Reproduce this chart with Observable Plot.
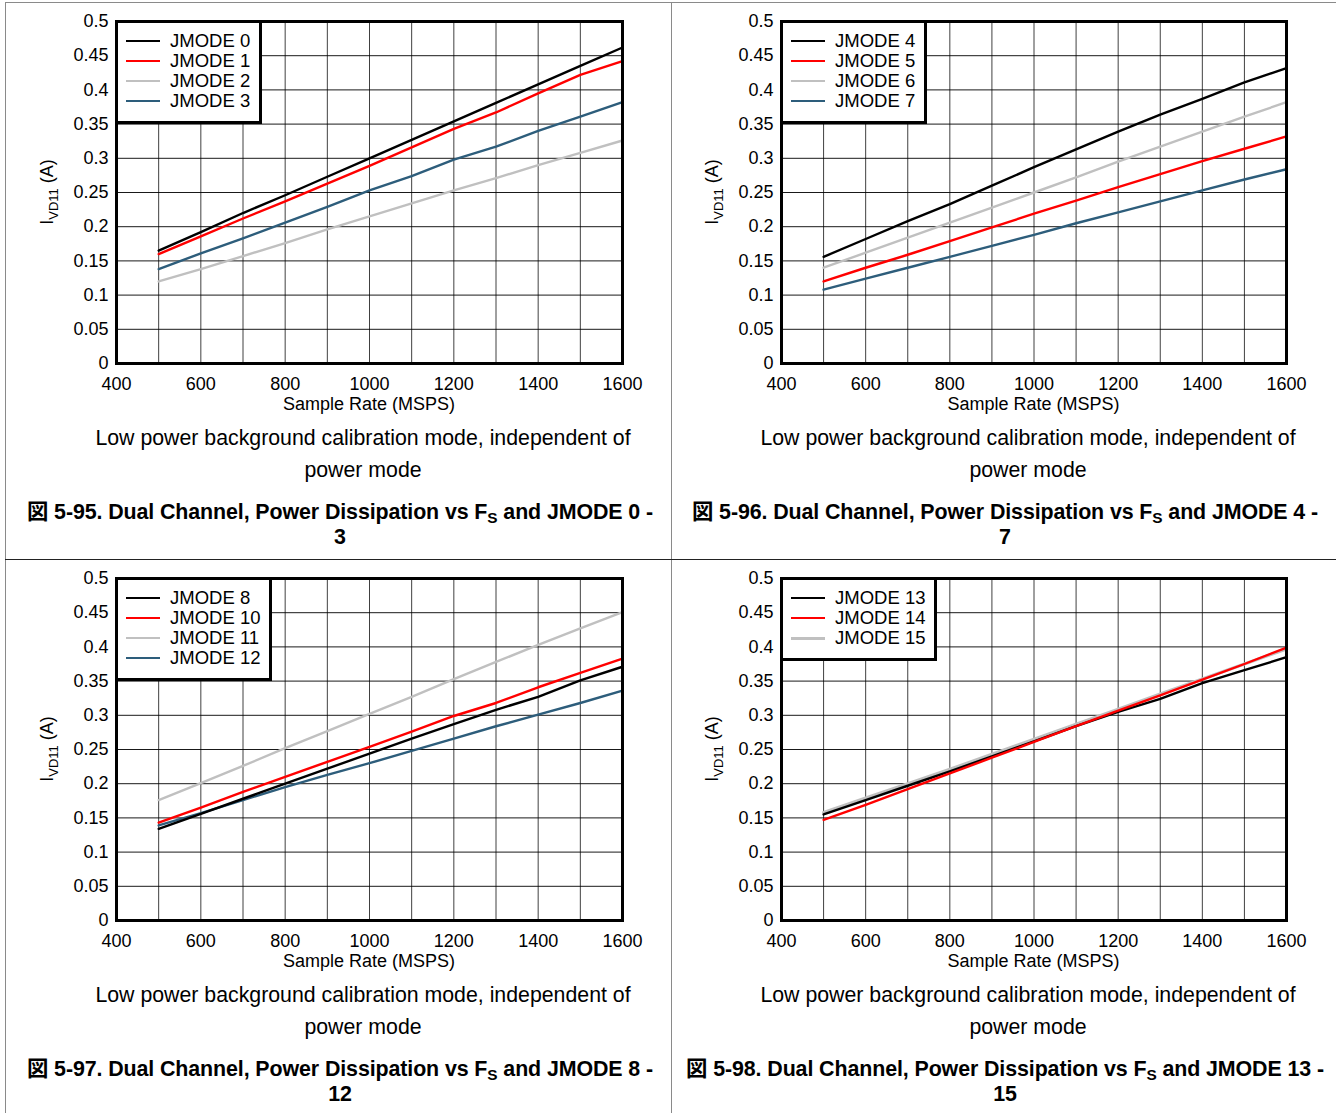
<!DOCTYPE html>
<html>
<head>
<meta charset="utf-8">
<script src="https://cdn.jsdelivr.net/npm/d3@7"></script>
<script src="https://cdn.jsdelivr.net/npm/@observablehq/plot@0.6"></script>
<style>
  html, body { margin: 0; padding: 0; background: #fff; }
  #root { position: relative; width: 1336px; height: 1113px; overflow: hidden; background: #fff;
          font-family: "Liberation Sans", Arial, "Noto Sans CJK JP", sans-serif; color: #000; }
  .abs { position: absolute; }
  .caption { font-size: 21.3px; line-height: 32px; text-align: center; white-space: nowrap; }
  .title { font-size: 21.4px; line-height: 25px; font-weight: bold; text-align: center; white-space: nowrap; letter-spacing: -0.1px; }
  .title sub { font-size: 0.72em; vertical-align: -0.28em; line-height: 0; }
  .legend { box-sizing: border-box; border: 3px solid #000; background: #fff; padding: 8.5px 9px 10px 8.5px; font-size: 18.5px; }
  .legend .row { display: flex; align-items: center; height: 20px; line-height: 20px; white-space: nowrap; }
  .legend .sw { width: 34px; height: 0; margin-right: 10px; }
</style>
</head>
<body>
<div id="root"></div>
<script>
// ---- data ----
const sampleRate = [500, 600, 700, 800, 900, 1000, 1100, 1200, 1300, 1400, 1500, 1600];
const jmode0  = [0.165, 0.192, 0.220, 0.246, 0.273, 0.300, 0.327, 0.354, 0.381, 0.408, 0.435, 0.462];
const jmode1  = [0.160, 0.186, 0.212, 0.237, 0.263, 0.289, 0.316, 0.343, 0.367, 0.395, 0.422, 0.442];
const jmode2  = [0.120, 0.138, 0.157, 0.176, 0.196, 0.215, 0.234, 0.253, 0.271, 0.290, 0.308, 0.326];
const jmode3  = [0.138, 0.161, 0.183, 0.206, 0.229, 0.253, 0.274, 0.298, 0.317, 0.340, 0.361, 0.382];
const jmode4  = [0.156, 0.182, 0.208, 0.233, 0.260, 0.287, 0.313, 0.339, 0.364, 0.387, 0.411, 0.432];
const jmode5  = [0.120, 0.140, 0.159, 0.179, 0.199, 0.219, 0.238, 0.258, 0.277, 0.296, 0.314, 0.332];
const jmode6  = [0.140, 0.162, 0.184, 0.206, 0.228, 0.250, 0.272, 0.295, 0.317, 0.339, 0.361, 0.382];
const jmode7  = [0.108, 0.124, 0.140, 0.156, 0.172, 0.188, 0.205, 0.221, 0.237, 0.253, 0.269, 0.284];
const jmode8  = [0.134, 0.156, 0.178, 0.200, 0.222, 0.244, 0.266, 0.287, 0.308, 0.327, 0.351, 0.371];
const jmode10 = [0.143, 0.165, 0.188, 0.210, 0.232, 0.254, 0.276, 0.299, 0.318, 0.341, 0.362, 0.383];
const jmode11 = [0.176, 0.201, 0.226, 0.252, 0.277, 0.302, 0.327, 0.353, 0.378, 0.403, 0.427, 0.451];
const jmode12 = [0.139, 0.157, 0.176, 0.195, 0.213, 0.230, 0.248, 0.266, 0.284, 0.301, 0.318, 0.336];
const jmode13 = [0.155, 0.176, 0.197, 0.218, 0.240, 0.262, 0.284, 0.305, 0.324, 0.347, 0.366, 0.385];
const jmode14 = [0.147, 0.169, 0.192, 0.215, 0.238, 0.261, 0.284, 0.307, 0.329, 0.352, 0.375, 0.399];
const jmode15 = [0.158, 0.179, 0.200, 0.221, 0.243, 0.265, 0.287, 0.309, 0.331, 0.353, 0.375, 0.397];

const xTicks = [400, 600, 800, 1000, 1200, 1400, 1600];
const xGrid  = [400, 500, 600, 700, 800, 900, 1000, 1100, 1200, 1300, 1400, 1500, 1600];
const yTicks = [0, 0.05, 0.1, 0.15, 0.2, 0.25, 0.3, 0.35, 0.4, 0.45, 0.5];

const xLabel = "Sample Rate (MSPS)";
const captionText = ["Low power background calibration mode, independent of", "power mode"];
const figNumbers = ["5-95", "5-96", "5-97", "5-98"];
const figRanges = [["0 -", "3"], ["4 -", "7"], ["8 -", "12"], ["13 -", "15"]];
const seriesNames = [
  ["JMODE 0", "JMODE 1", "JMODE 2", "JMODE 3"],
  ["JMODE 4", "JMODE 5", "JMODE 6", "JMODE 7"],
  ["JMODE 8", "JMODE 10", "JMODE 11", "JMODE 12"],
  ["JMODE 13", "JMODE 14", "JMODE 15"]
];
const seriesValues = [
  [jmode0, jmode1, jmode2, jmode3],
  [jmode4, jmode5, jmode6, jmode7],
  [jmode8, jmode10, jmode11, jmode12],
  [jmode13, jmode14, jmode15]
];

// ---- styling ----
const BLACK = "#000000", RED = "#ff0000", GRAY = "#c0c0c0", BLUE = "#2d5d7b";
const seriesColors = [
  [BLACK, RED, GRAY, BLUE],
  [BLACK, RED, GRAY, BLUE],
  [BLACK, RED, GRAY, BLUE],
  [BLACK, RED, GRAY]
];
// drawing order (indices) per panel
const drawOrder = [[2, 3, 1, 0], [2, 3, 1, 0], [2, 3, 0, 1], [2, 0, 1]];
const FONT = '"Liberation Sans", Arial, "Noto Sans CJK JP", sans-serif';
const yFmt = d => d === 0 ? "0" : String(+d.toFixed(2));

const root = document.getElementById("root");

function addLine(x, y, w, h, color) {
  const d = document.createElement("div");
  d.className = "abs";
  d.style.cssText = `left:${x}px;top:${y}px;width:${w}px;height:${h}px;background:${color};`;
  root.appendChild(d);
}

// frame lines between panels
addLine(6, 2, 1330, 1, "#8a8a8a");
addLine(5, 2, 1, 1111, "#8a8a8a");
addLine(671, 2, 1, 1111, "#8a8a8a");
addLine(5, 559, 1331, 1, "#222");

for (let p = 0; p < 4; p++) {
  const col = p % 2, row = Math.floor(p / 2);
  const L = col ? 672 : 0, T = row ? 557 : 0;
  const W = col ? 664 : 672, ML = col ? 109 : 116;
  const MR = 50, MT = 21, MB = 52, H = 415;

  const lines = drawOrder[p].map(i => {
    const vals = seriesValues[p][i];
    const data = sampleRate.map((x, k) => ({x, y: vals[k]}));
    const sw = (p === 3 && i === 2) ? 3.2 : 2.4;
    return Plot.line(data, {x: "x", y: "y", stroke: seriesColors[p][i], strokeWidth: sw, strokeLinejoin: "round"});
  });

  const chart = Plot.plot({
    width: W, height: H,
    marginLeft: ML, marginRight: MR, marginTop: MT, marginBottom: MB,
    style: {fontFamily: FONT, fontSize: "18px", color: "#000", background: "none", overflow: "visible"},
    x: {domain: [400, 1600]},
    y: {domain: [0, 0.5]},
    marks: [
      Plot.gridX(xGrid, {stroke: "#000", strokeOpacity: 0.75, strokeWidth: 1}),
      Plot.gridY(yTicks, {stroke: "#000", strokeOpacity: 0.9, strokeWidth: 1}),
      ...lines,
      Plot.frame({stroke: "#000", strokeWidth: 3}),
      Plot.axisX(xTicks, {tickSize: 0, tickPadding: 13.5, label: null, tickFormat: d => String(d)}),
      Plot.axisY(yTicks, {tickSize: 0, tickPadding: 8, label: null, tickFormat: yFmt})
    ]
  });
  chart.style.position = "absolute";
  chart.style.left = L + "px";
  chart.style.top = T + "px";

  const svg = d3.select(chart);
  svg.append("text")
    .attr("x", (ML + W - MR) / 2).attr("y", H - MB + 47)
    .attr("text-anchor", "middle").attr("font-size", 18).attr("fill", "#000")
    .text(xLabel);
  const yl = svg.append("text")
    .attr("transform", `translate(${ML - 63},${(MT + H - MB) / 2}) rotate(-90)`)
    .attr("text-anchor", "middle").attr("font-size", 18).attr("fill", "#000");
  yl.append("tspan").text("I");
  yl.append("tspan").attr("dy", 5).attr("font-size", 13).text("VD11");
  yl.append("tspan").attr("dy", -5).text(" (A)");

  root.appendChild(chart);

  // legend
  const leg = document.createElement("div");
  leg.className = "abs legend";
  leg.style.left = (L + ML - 1.5) + "px";
  leg.style.top = (T + MT - 1.5) + "px";
  seriesNames[p].forEach((name, i) => {
    const r = document.createElement("div");
    r.className = "row";
    const sw = document.createElement("span");
    sw.className = "sw";
    sw.style.borderTop = `${(p === 3 && i === 2) ? 3.2 : 2.6}px solid ${seriesColors[p][i]}`;
    const t = document.createElement("span");
    t.textContent = name;
    r.appendChild(sw); r.appendChild(t);
    leg.appendChild(r);
  });
  root.appendChild(leg);

  // caption
  const capCenter = col ? 1028 : 363;
  const cap = document.createElement("div");
  cap.className = "abs caption";
  cap.style.left = (capCenter - 330) + "px";
  cap.style.width = "660px";
  cap.style.top = (T + 422) + "px";
  cap.innerHTML = captionText.join("<br>");
  root.appendChild(cap);

  // figure title
  const tCenter = col ? 1005 : 340;
  const ttl = document.createElement("div");
  ttl.className = "abs title";
  ttl.style.left = (tCenter - 330) + "px";
  ttl.style.width = "660px";
  ttl.style.top = (T + 499.5) + "px";
  ttl.innerHTML = `図 ${figNumbers[p]}. Dual Channel, Power Dissipation vs F<sub>S</sub> and JMODE ${figRanges[p][0]}<br>${figRanges[p][1]}`;
  root.appendChild(ttl);
}
</script>
</body>
</html>
